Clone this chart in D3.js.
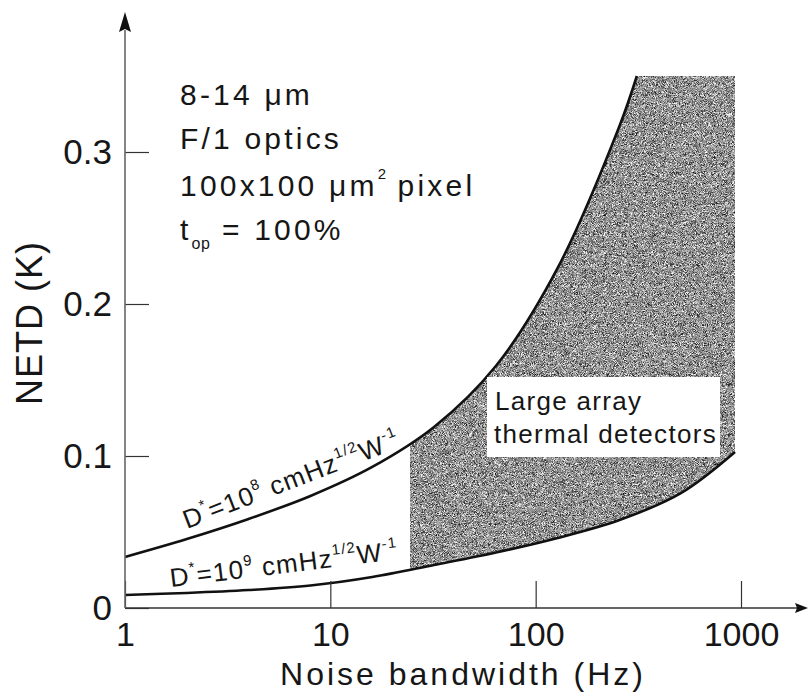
<!DOCTYPE html>
<html>
<head>
<meta charset="utf-8">
<script src="https://cdn.jsdelivr.net/npm/d3@7"></script>
<style>
  html, body { margin: 0; padding: 0; background: #fff; }
  svg { display: block; }
  text { font-family: "Liberation Sans", Arial, Helvetica, sans-serif; fill: #161616; }
</style>
</head>
<body>
<svg id="chart" width="808" height="698"></svg>
<script>
// Noise bandwidth (Hz) and NETD (K) for the two detectivity curves
const upperBandwidth = [1, 2, 4, 8, 16, 32, 64, 128, 256, 311];
const upperNETD      = [0.0336, 0.0454, 0.0586, 0.0737, 0.0928, 0.1191, 0.1592, 0.2237, 0.3171, 0.35];

const lowerBandwidth = [1, 2, 4, 8, 16, 32, 64, 128, 256, 512, 935];
const lowerNETD      = [0.0086, 0.0099, 0.0118, 0.0148, 0.0204, 0.0283, 0.0365, 0.0461, 0.0579, 0.0757, 0.1026];

// Bandwidth span and NETD ceiling of the shaded "large array" region
const regionBandwidth = [24.4, 935];
const regionTopNETD = 0.35;

// Axis ticks
const xTicks = [1, 10, 100, 1000];
const xTickLabels = ["1", "10", "100", "1000"];
const yTicks = [0, 0.1, 0.2, 0.3];
const yTickLabels = ["0", "0.1", "0.2", "0.3"];

const svg = d3.select("#chart");

const x = d3.scaleLog().domain([1, 1000]).range([125, 741]);
const y = d3.scaleLinear().domain([0, 0.3]).range([608, 152]);

// Grainy grey fill for the shaded region
const defs = svg.append("defs");
const grain = defs.append("filter")
  .attr("id", "grain")
  .attr("filterUnits", "userSpaceOnUse")
  .attr("x", 0).attr("y", 0).attr("width", 808).attr("height", 698)
  .attr("color-interpolation-filters", "sRGB");
grain.append("feTurbulence")
  .attr("type", "fractalNoise")
  .attr("baseFrequency", 1.9)
  .attr("numOctaves", 1)
  .attr("seed", 7)
  .attr("result", "noise");
grain.append("feColorMatrix")
  .attr("in", "noise")
  .attr("type", "matrix")
  .attr("values", "1.8 0 0 0 -0.33  1.8 0 0 0 -0.33  1.8 0 0 0 -0.33  0 0 0 0 1")
  .attr("result", "grey");
grain.append("feComposite")
  .attr("in", "grey")
  .attr("in2", "SourceGraphic")
  .attr("operator", "in");

defs.append("clipPath").attr("id", "regionClip")
  .append("rect")
  .attr("x", x(regionBandwidth[0]))
  .attr("y", y(regionTopNETD))
  .attr("width", x(regionBandwidth[1]) - x(regionBandwidth[0]))
  .attr("height", y(0) - y(regionTopNETD));

const upperPts = upperBandwidth.map((f, i) => [f, upperNETD[i]]);
const lowerPts = lowerBandwidth.map((f, i) => [f, lowerNETD[i]]);

const line = d3.line()
  .x(d => x(d[0]))
  .y(d => y(d[1]))
  .curve(d3.curveCatmullRom.alpha(0.5));

// Shaded region between the two curves, capped at the NETD ceiling
const lowerEnd = lowerPts[lowerPts.length - 1];
const regionPath = line(upperPts)
  + "L" + x(regionBandwidth[1]) + "," + y(regionTopNETD)
  + "L" + x(lowerEnd[0]) + "," + y(lowerEnd[1])
  + line(lowerPts.slice().reverse()).replace(/^M/, "L")
  + "Z";

svg.append("path")
  .attr("d", regionPath)
  .attr("clip-path", "url(#regionClip)")
  .attr("fill", "#888")
  .attr("filter", "url(#grain)");

// Curves
svg.append("path")
  .attr("d", line(upperPts))
  .attr("fill", "none")
  .attr("stroke", "#111")
  .attr("stroke-width", 2.6);
svg.append("path")
  .attr("d", line(lowerPts))
  .attr("fill", "none")
  .attr("stroke", "#111")
  .attr("stroke-width", 2.6);

// Axes
const xAxis = d3.axisBottom(x)
  .tickValues(xTicks)
  .tickFormat((d, i) => xTickLabels[i])
  .tickSizeInner(-27)
  .tickSizeOuter(0)
  .tickPadding(14);
const gx = svg.append("g").attr("transform", `translate(0,${y(0)})`).call(xAxis);
gx.select(".domain").remove();
gx.selectAll(".tick line").attr("stroke", "#333").attr("stroke-width", 1.2);
gx.selectAll(".tick text")
  .attr("font-size", 34)
  .attr("fill", "#161616")
  .style("font-family", "\"Liberation Sans\", Arial, sans-serif");

const yAxis = d3.axisLeft(y)
  .tickValues(yTicks)
  .tickFormat((d, i) => yTickLabels[i])
  .tickSizeInner(-24)
  .tickSizeOuter(0)
  .tickPadding(13);
const gy = svg.append("g").attr("transform", `translate(${x(1)},0)`).call(yAxis);
gy.select(".domain").remove();
gy.selectAll(".tick line").attr("stroke", "#333").attr("stroke-width", 1.2);
gy.selectAll(".tick text")
  .attr("font-size", 35)
  .attr("dy", "0.34em")
  .attr("fill", "#161616")
  .style("font-family", "\"Liberation Sans\", Arial, sans-serif");

// Axis lines with arrowheads
const x0 = x(1), y0 = y(0);
svg.append("line")
  .attr("x1", x0).attr("y1", y0).attr("x2", 798).attr("y2", y0)
  .attr("stroke", "#333").attr("stroke-width", 1.6);
svg.append("path")
  .attr("d", `M808,${y0} L795,${y0 - 5} L797,${y0} L795,${y0 + 5} Z`)
  .attr("fill", "#111");
svg.append("line")
  .attr("x1", x0).attr("y1", y0).attr("x2", x0).attr("y2", 30)
  .attr("stroke", "#666").attr("stroke-width", 1.6);
svg.append("path")
  .attr("d", `M${x0},12 L${x0 - 6},32 L${x0},29 L${x0 + 6},32 Z`)
  .attr("fill", "#111");

// Axis titles
svg.append("text")
  .attr("transform", "translate(42,323) rotate(-90)")
  .attr("text-anchor", "middle")
  .attr("font-size", 36)
  .attr("letter-spacing", 1)
  .text("NETD (K)");

svg.append("text")
  .attr("x", 463).attr("y", 685)
  .attr("text-anchor", "middle")
  .attr("font-size", 32)
  .attr("letter-spacing", 3)
  .text("Noise bandwidth (Hz)");

// Conditions block
const cond = svg.append("g").attr("font-size", 30).attr("letter-spacing", 3.2);
cond.append("text").attr("x", 180).attr("y", 105).text("8-14 μm");
cond.append("text").attr("x", 180).attr("y", 149).text("F/1 optics");
const pixLine = cond.append("text").attr("x", 180).attr("y", 196);
pixLine.append("tspan").text("100x100 μm");
pixLine.append("tspan").attr("font-size", 15).attr("dy", -17).attr("letter-spacing", 0).text("2");
pixLine.append("tspan").attr("dy", 17).text(" pixel");
const topLine = cond.append("text").attr("x", 180).attr("y", 240);
topLine.append("tspan").text("t");
topLine.append("tspan").attr("font-size", 16).attr("dy", 9).attr("letter-spacing", 0.5).text("op");
topLine.append("tspan").attr("dy", -9).text(" = 100%");

// Curve labels
function dstarLabel(px, py, angle, exp) {
  const t = svg.append("text")
    .attr("transform", `translate(${px},${py}) rotate(${angle})`)
    .attr("font-size", 26)
    .attr("letter-spacing", 1.2);
  t.append("tspan").text("D");
  t.append("tspan").attr("font-size", 15).attr("dy", -12).text("*");
  t.append("tspan").attr("dy", 12).text("=10");
  t.append("tspan").attr("font-size", 15).attr("dy", -12).text(exp);
  t.append("tspan").attr("dy", 12).text(" cmHz");
  t.append("tspan").attr("font-size", 15).attr("dy", -12).text("1/2");
  t.append("tspan").attr("dy", 12).text("W");
  t.append("tspan").attr("font-size", 15).attr("dy", -12).text("-1");
}
dstarLabel(187, 529, -21, "8");
dstarLabel(171, 587, -7, "9");

// Region label
svg.append("rect")
  .attr("x", 487).attr("y", 377).attr("width", 233).attr("height", 80)
  .attr("fill", "#fff");
const reg = svg.append("g").attr("font-size", 26).attr("letter-spacing", 1.3);
reg.append("text").attr("x", 495).attr("y", 410).text("Large array");
reg.append("text").attr("x", 494).attr("y", 443).text("thermal detectors");
</script>
</body>
</html>
